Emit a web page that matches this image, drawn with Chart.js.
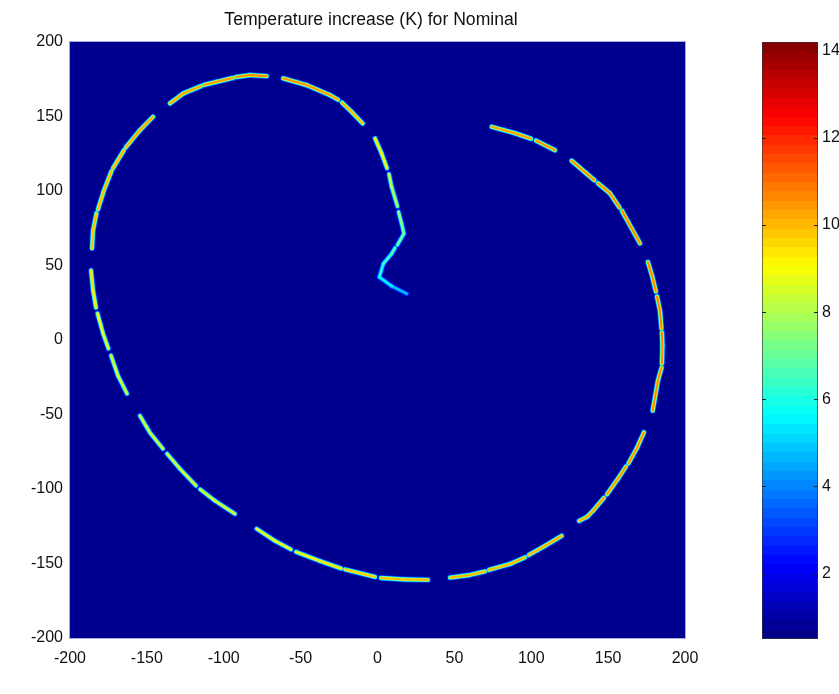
<!DOCTYPE html>
<html>
<head>
<meta charset="utf-8">
<title>Temperature increase (K) for Nominal</title>
<script src="https://cdn.jsdelivr.net/npm/chart.js@4/dist/chart.umd.min.js"></script>
<style>
  html, body { margin: 0; padding: 0; background: #fff; }
  #wrap { position: relative; width: 839px; height: 694px; overflow: hidden; }
  #mainChart { position: absolute; left: 0; top: 0; }
  #cbChart { position: absolute; left: 700px; top: 0; }
</style>
</head>
<body>
<div id="wrap">
  <canvas id="mainChart" width="741" height="694"></canvas>
  <canvas id="cbChart" width="139" height="694"></canvas>
</div>
<script>
// Path of the hot track. null = gap between dashes.
const pathX = [
  19, 9.5, 1.2, 3.8, 9.2, 11.4, null,
  13, 17.2, 15.7, 13.7, null,
  13, 9.2, 7.5, null,
  6.2, 2.7, -1.6, null,
  -9.6, -16.8, -23.1, null,
  -25.7, -30.9, -46.1, -61.3, null,
  -72.1, -82.9, -92, null,
  -94, -104.6, -112.8, null,
  -114.8, -126.3, -135, null,
  -146, -154.5, -163.6, null,
  -164.9, -172, null,
  -173, -177.9, -181.8, null,
  -182.8, -185, -185.7, null,
  -186.3, -185, -183.1, null,
  -182.1, -178.5, -175, null,
  -173.3, -168.8, -162.9, null,
  -154.5, -148, -139.5, null,
  -136.9, -128.5, -118, null,
  -115.4, -105.7, -92.7, null,
  -78.6, -66.7, -56.3, null,
  -53, -37.4, -23.7, null,
  -21.1, -1.6, null,
  2.3, 17.9, 32.8, null,
  47.2, 60.2, 69.9, null,
  72.5, 86.2, 95.9, null,
  98.5, 108.9, 119.8, null,
  131.1, 136.3, 140.2, 147.3, null,
  149.3, 156.4, 161.6, null,
  163.3, 168.8, 173.3, null,
  179, 182.4, 184.8, null,
  185, 185.3, 185, null,
  184.7, 183.7, 181.8, null,
  181.1, 178.5, 175.9, null,
  170.7, 164.2, 159, null,
  157.4, 151.2, 143.4, null,
  141.1, 135, 126.3, null,
  115.4, 108.9, 103.1, null,
  99.8, 89.4, 74.3
];
const pathY = [
  31.1, 36, 42.2, 51.2, 57.9, 61.8, null,
  63.9, 71.4, 78.1, 86, null,
  89.7, 102.7, 111.3, null,
  115.3, 125.2, 135.3, null,
  145.3, 153.1, 159.3, null,
  161.3, 164.4, 171.1, 175.6, null,
  177.1, 177.8, 176.5, null,
  175.9, 173.3, 171.2, null,
  170.4, 165.5, 158.8, null,
  149.8, 140.8, 129.4, null,
  127.4, 115.3, null,
  113.3, 100.5, 87.7, null,
  85, 73.6, 61.5, null,
  46.7, 33.3, 21.8, null,
  17.8, 4.4, -5.7, null,
  -10.4, -23.9, -36, null,
  -50.8, -62.2, -73, null,
  -76.3, -86.4, -97.8, null,
  -100.2, -107.9, -116.7, null,
  -126.7, -134.8, -140.5, null,
  -142.2, -148.3, -153.3, null,
  -154, -159, null,
  -159.7, -160.7, -161, null,
  -159.5, -157.7, -155.3, null,
  -154.3, -150.3, -145.9, null,
  -144.2, -138.2, -131.4, null,
  -121.4, -118.7, -114.6, -105.9, null,
  -103.5, -93.1, -85, null,
  -82.7, -72.3, -62, null,
  -47.4, -27.2, -18.5, null,
  -15.8, -3.7, 5, null,
  7.7, 19.8, 29.2, null,
  32.6, 43.4, 52.3, null,
  64.9, 77, 86.7, null,
  88.9, 98.5, 105.2, null,
  107.2, 112.6, 120.3, null,
  127.4, 130.8, 133.8, null,
  135.1, 138.8, 143.1
];
// peak temperature increase (K) along the track
const pathT = [
  4.5, 5.2, 5.8, 6.2, 6.6, 6.8, null,
  7, 7.2, 7.4, 7.6, null,
  7.8, 8.2, 8.5, null,
  8.8, 9.2, 9.5, null,
  9.8, 10, 10.2, null,
  10.2, 10.3, 10.5, 10.5, null,
  10.6, 10.6, 10.5, null,
  10.4, 10.4, 10.3, null,
  10.3, 10.2, 10.2, null,
  10.2, 10.2, 10.1, null,
  10.1, 10, null,
  10, 10, 10, null,
  10, 10, 9.8, null,
  9.6, 9.4, 9.2, null,
  9, 8.8, 8.7, null,
  8.6, 8.5, 8.5, null,
  8.4, 8.4, 8.4, null,
  8.4, 8.4, 8.5, null,
  8.5, 8.5, 8.6, null,
  8.8, 8.9, 9, null,
  9.1, 9.3, 9.5, null,
  9.6, 9.8, null,
  9.9, 10, 10, null,
  10, 10, 10, null,
  10, 10, 10.1, null,
  10.1, 10.1, 10.2, null,
  10.2, 10.2, 10.3, 10.3, null,
  10.3, 10.4, 10.4, null,
  10.4, 10.5, 10.5, null,
  10.6, 10.6, 10.6, null,
  10.6, 10.7, 10.7, null,
  10.7, 10.7, 10.7, null,
  10.7, 10.7, 10.7, null,
  10.7, 10.7, 10.7, null,
  10.7, 10.6, 10.6, null,
  10.6, 10.6, 10.5, null,
  10.5, 10.5, 10.5, null,
  10.4, 10.4, 10.2
];

const xTicks = [-200, -150, -100, -50, 0, 50, 100, 150, 200];
const yTicks = [-200, -150, -100, -50, 0, 50, 100, 150, 200];
const cbTicks = [2, 4, 6, 8, 10, 12, 14];
const cbRange = [0.5, 14.2];
const titleText = 'Temperature increase (K) for Nominal';

const FONT = "'Liberation Sans', Arial, Helvetica, sans-serif";
const TEXT = '#111';

// MATLAB style jet colormap
function jet(t) {
  t = Math.max(0, Math.min(1, t));
  const c = v => Math.round(255 * Math.max(0, Math.min(1, v)));
  return `rgb(${c(1.5 - Math.abs(4 * t - 3))},${c(1.5 - Math.abs(4 * t - 2))},${c(1.5 - Math.abs(4 * t - 1))})`;
}
function tempColor(T) {
  return jet((T - cbRange[0]) / (cbRange[1] - cbRange[0]));
}

// track is drawn as a few stacked strokes, wide+cool outside, thin+hot in the core
const layers = [
  { width: 5.8, frac: 0.3 },
  { width: 4.4, frac: 0.55 },
  { width: 3.2, frac: 0.82 },
  { width: 2.1, frac: 1 }
];

const points = pathX.map((x, i) => x === null ? { x: null, y: null } : { x: x, y: pathY[i] });

const datasets = layers.map((layer, li) => ({
  data: points,
  showLine: true,
  pointRadius: 0,
  borderWidth: layer.width,
  borderCapStyle: 'round',
  borderJoinStyle: 'round',
  borderColor: tempColor(10 * layer.frac),
  spanGaps: false,
  order: layers.length - li,
  segment: {
    borderColor: ctx => {
      const a = pathT[ctx.p0DataIndex], b = pathT[ctx.p1DataIndex];
      return tempColor(layer.frac * (a + b) / 2);
    }
  }
}));

const plotFrame = {
  id: 'plotFrame',
  beforeDatasetsDraw(chart) {
    const { ctx, chartArea: a } = chart;
    ctx.save();
    ctx.fillStyle = 'rgb(0,0,143)';
    ctx.fillRect(a.left, a.top, a.right - a.left, a.bottom - a.top);
    ctx.restore();
  },
  afterDatasetsDraw(chart) {
    const { ctx, chartArea: a } = chart;
    ctx.save();
    ctx.strokeStyle = '#a9a9dc';
    ctx.lineWidth = 1;
    ctx.strokeRect(a.left - 0.5, a.top - 0.5, a.right - a.left + 1, a.bottom - a.top + 1);
    // title, centred where the original figure put it
    ctx.fillStyle = TEXT;
    ctx.font = '17.6px ' + FONT;
    ctx.textAlign = 'center';
    ctx.textBaseline = 'middle';
    ctx.fillText(titleText, 371, 20);
    ctx.restore();
  }
};

new Chart(document.getElementById('mainChart'), {
  type: 'scatter',
  data: { datasets: datasets },
  options: {
    responsive: false,
    animation: false,
    layout: { padding: { left: 0, right: 56, top: 42, bottom: 0 } },
    plugins: {
      legend: { display: false },
      tooltip: { enabled: false },
      title: { display: false }
    },
    scales: {
      x: {
        type: 'linear',
        min: -200, max: 200,
        grid: { display: false, drawTicks: false },
        border: { display: false },
        afterBuildTicks: s => { s.ticks = xTicks.map(v => ({ value: v })); },
        afterFit: s => { s.height = 56; },
        ticks: { color: TEXT, font: { family: FONT, size: 16 }, padding: 11, maxRotation: 0 }
      },
      y: {
        type: 'linear',
        min: -200, max: 200,
        grid: { display: false, drawTicks: false },
        border: { display: false },
        afterBuildTicks: s => { s.ticks = yTicks.map(v => ({ value: v })); },
        afterFit: s => { s.width = 70; },
        ticks: { color: TEXT, font: { family: FONT, size: 16 }, padding: 7 }
      }
    }
  },
  plugins: [plotFrame]
});

// colorbar
function cbGradient(chart) {
  const a = chart.chartArea;
  if (!a) return jet(0.5);
  const g = chart.ctx.createLinearGradient(0, a.bottom, 0, a.top);
  const n = 64;
  for (let i = 0; i < n; i++) {
    const c = jet((i + 0.5) / n);
    g.addColorStop(i / n, c);
    g.addColorStop((i + 1) / n, c);
  }
  return g;
}

const cbMarks = {
  id: 'cbMarks',
  afterDatasetsDraw(chart) {
    const { ctx, chartArea: a, scales } = chart;
    ctx.save();
    ctx.strokeStyle = '#222';
    ctx.lineWidth = 1;
    cbTicks.forEach(v => {
      const py = Math.round(scales.y.getPixelForValue(v)) + 0.5;
      ctx.beginPath();
      ctx.moveTo(a.left, py); ctx.lineTo(a.left + 4, py);
      ctx.moveTo(a.right - 4, py); ctx.lineTo(a.right, py);
      ctx.stroke();
    });
    ctx.restore();
  }
};

new Chart(document.getElementById('cbChart'), {
  type: 'bar',
  data: {
    labels: ['K'],
    datasets: [{
      data: [cbRange],
      backgroundColor: ctx => cbGradient(ctx.chart),
      borderColor: '#333',
      borderWidth: 1,
      borderSkipped: false,
      categoryPercentage: 1,
      barPercentage: 1
    }]
  },
  options: {
    responsive: false,
    animation: false,
    layout: { padding: { left: 62, right: 0, top: 42, bottom: 55 } },
    plugins: { legend: { display: false }, tooltip: { enabled: false } },
    scales: {
      x: { display: false },
      y: {
        position: 'right',
        min: cbRange[0], max: cbRange[1],
        grid: { display: false, drawTicks: false },
        border: { display: false },
        afterBuildTicks: s => { s.ticks = cbTicks.map(v => ({ value: v })); },
        afterFit: s => { s.width = 21; },
        ticks: { color: TEXT, font: { family: FONT, size: 16 }, padding: 4 }
      }
    }
  },
  plugins: [cbMarks]
});
</script>
</body>
</html>
